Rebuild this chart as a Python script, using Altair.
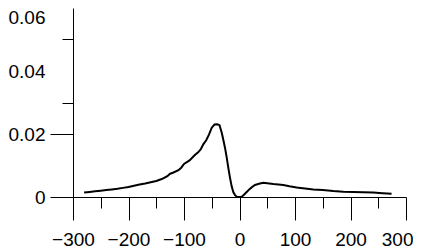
import altair as alt
import pandas as pd

# Curve values
xs = [-280, -270, -260, -250, -240, -230, -220, -210, -200, -190, -180, -170, -160,
      -150, -140, -130, -125, -120, -110, -105, -100, -90, -80, -75, -70, -65, -60,
      -55, -50, -45, -40, -36, -32, -28, -26, -23, -20, -17, -14, -11, -8, -5, 0,
      4, 8, 13, 18, 23, 28, 35, 43, 50, 61, 70, 79, 90, 103, 118, 133, 150, 169,
      187, 205, 223, 241, 258, 274]
ys = [0.0014, 0.0016, 0.0018, 0.0020, 0.0022, 0.0024, 0.0026, 0.0029, 0.0032, 0.0036,
      0.0040, 0.0043, 0.0047, 0.0051, 0.0057, 0.0066, 0.0074, 0.0077, 0.0085, 0.0093,
      0.0105, 0.0116, 0.0134, 0.0141, 0.0151, 0.0168, 0.0180, 0.0198, 0.0220, 0.0230,
      0.0231, 0.0228, 0.0204, 0.0172, 0.0155, 0.0125, 0.0091, 0.0060, 0.0033, 0.0015,
      0.0006, 0.0001, 0.0000, 0.0001, 0.0007, 0.0016, 0.0025, 0.0032, 0.0038, 0.0042,
      0.0045, 0.0044, 0.0041, 0.0040, 0.0038, 0.0034, 0.0030, 0.0027, 0.0024, 0.0022,
      0.0019, 0.0017, 0.0016, 0.0015, 0.0014, 0.0012, 0.0010]

x_major = [-300, -200, -100, 0, 100, 200, 300]
x_minor = [-250, -150, -50, 50, 150, 250]
x_last_label = [300]
y_labels = [0, 0.02, 0.04, 0.06]
y_major_ticks = [0, 0.02]
y_minor_ticks = [0.03, 0.05]

df = pd.DataFrame({"x": xs, "y": ys})

FONT = "Liberation Sans"
FS = 19
XPAD = 10
xscale = alt.Scale(domain=[-300, 300], nice=False, zero=False)
yscale = alt.Scale(domain=[0, 0.06], nice=False)

base = alt.Chart(df)

line = base.mark_line(color="black", strokeWidth=2, interpolate="linear").encode(
    x=alt.X("x:Q", scale=xscale, title=None,
            axis=alt.Axis(values=x_major, tickSize=23, labelPadding=XPAD, grid=False,
                          domainColor="black", tickColor="black", labelColor="black",
                          labelFont=FONT, labelFontSize=FS,
                          labelExpr="datum.value >= 300 ? '' : format(datum.value, 'd')",
                          labelFlush=False, labelOverlap=False, orient="bottom")),
    y=alt.Y("y:Q", scale=yscale, title=None,
            axis=alt.Axis(values=y_labels, ticks=False, labelPadding=28, grid=False,
                          domainColor="black", labelColor="black", labelFont=FONT,
                          labelFontSize=FS, labelFlush=False, labelOverlap=False,
                          labelExpr="datum.value == 0 ? '0' : format(datum.value, '.2f')",
                          labelBaseline={"condition": {"test": "datum.value > 0.059", "value": "top"},
                                         "value": "middle"},
                          orient="left")),
)

ticks2 = base.mark_line(opacity=0).encode(
    x=alt.X("x:Q", scale=xscale, title=None,
            axis=alt.Axis(values=x_minor, tickSize=11, labels=False, domain=False,
                          grid=False, tickColor="black", orient="bottom")),
    y=alt.Y("y:Q", scale=yscale, title=None,
            axis=alt.Axis(values=y_major_ticks, tickSize=23, labels=False, domain=False,
                          grid=False, tickColor="black", orient="left")),
)

ticks3 = base.mark_line(opacity=0).encode(
    x=alt.X("x:Q", scale=xscale, title=None,
            axis=alt.Axis(values=x_last_label, ticks=False, domain=False, grid=False,
                          labelPadding=23 + XPAD, labelAlign="right", labelOffset=7,
                          labelColor="black", labelFont=FONT, labelFontSize=FS,
                          format="d", labelFlush=False, labelOverlap=False,
                          orient="bottom")),
    y=alt.Y("y:Q", scale=yscale, title=None,
            axis=alt.Axis(values=y_minor_ticks, tickSize=11, labels=False, domain=False,
                          grid=False, tickColor="black", orient="left")),
)

chart = alt.layer(line, ticks2, ticks3).resolve_axis(
    x="independent", y="independent"
).properties(
    width=333, height=189,
    autosize=alt.AutoSizeParams(type="none"),
    padding={"left": 65, "top": 0, "right": 7, "bottom": 53},
    background="white",
).configure_view(stroke=None)

chart.save("out.html", embed_options={"renderer": "svg", "actions": False})
